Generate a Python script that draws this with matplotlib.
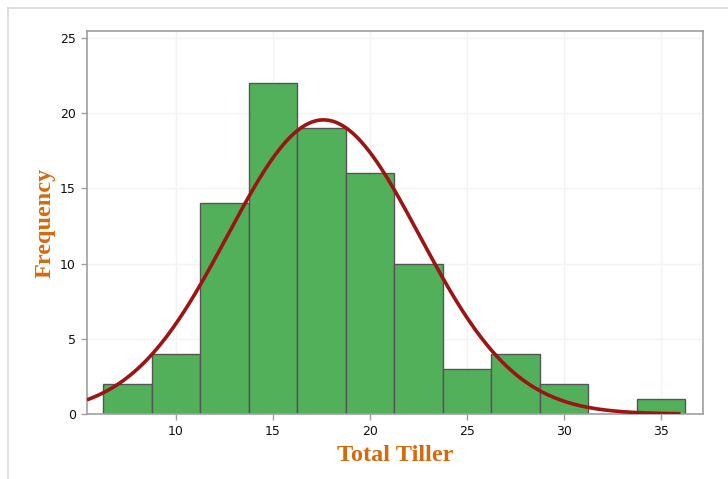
import matplotlib
matplotlib.use("Agg")
import matplotlib.pyplot as plt
import numpy as np

# histogram data
bin_edges = [6.25, 8.75, 11.25, 13.75, 16.25, 18.75, 21.25, 23.75,
             26.25, 28.75, 31.25, 33.75, 36.25]
counts = [2, 4, 14, 22, 19, 16, 10, 3, 4, 2, 0, 1]

# fitted normal curve
fit_mean = 17.6
fit_sd = 4.95

x_ticks = [10, 15, 20, 25, 30, 35]
y_ticks = [0, 5, 10, 15, 20, 25]

fig = plt.figure(figsize=(7.28, 4.79), dpi=100)
ax = fig.add_axes([87/728, 1 - 414/479, (703-87)/728, (414-31)/479])

# outer frame of the screenshot
fig.add_artist(plt.Line2D([8/728, 1], [1 - 8/479, 1 - 8/479], color="#d9d9d9", lw=1.2))
fig.add_artist(plt.Line2D([8/728, 8/728], [0, 1 - 8/479], color="#d9d9d9", lw=1.2))

widths = np.diff(bin_edges)
ax.bar(bin_edges[:-1], counts, width=widths, align="edge",
       color="#52b05a", edgecolor="#555555", linewidth=1.0, zorder=2)

n_total = sum(counts)
bw = widths[0]
xs = np.linspace(5.41, 36.0, 300)
ys = n_total * bw / (fit_sd * np.sqrt(2*np.pi)) * np.exp(-0.5*((xs - fit_mean)/fit_sd)**2)
ax.plot(xs, ys, color="#9c1414", lw=2.6, zorder=3, solid_capstyle="butt")

ax.set_xlim(5.41, 37.16)
ax.set_ylim(0, 25.45)
ax.set_xticks(x_ticks)
ax.set_yticks(y_ticks)
ax.grid(True, color="#f3f3f3", lw=1.0, zorder=0)
ax.set_axisbelow(True)

for s in ax.spines.values():
    s.set_color("#a0a0a0")
    s.set_linewidth(1.2)
ax.tick_params(axis="both", direction="out", length=4, width=1, color="#a0a0a0",
               labelsize=9, labelcolor="#111111", pad=4)

label_font = dict(family="Liberation Serif", weight="bold", size=17.5, color="#d46a0f")
ax.set_xlabel("Total Tiller", labelpad=5, **label_font)
ax.set_ylabel("Frequency", labelpad=3.5, **label_font)

fig.savefig("out.png", dpi=100)
